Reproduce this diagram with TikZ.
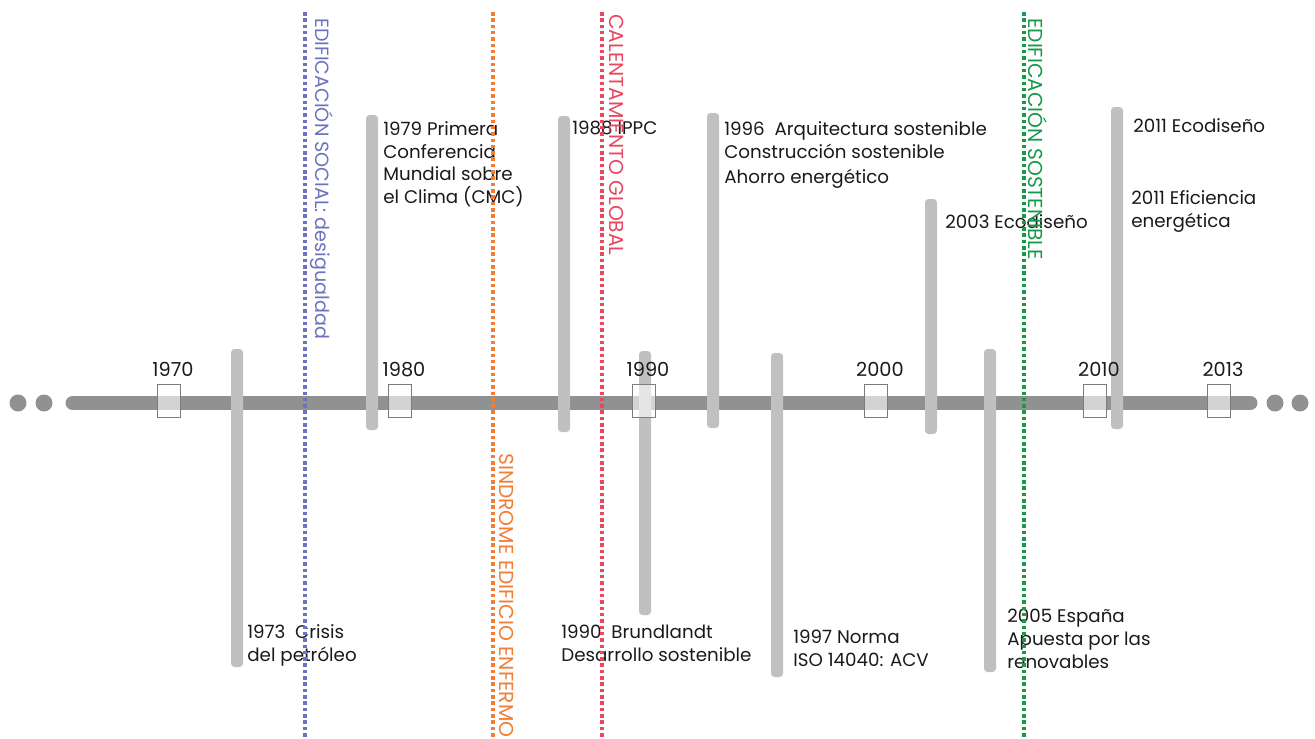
\documentclass[tikz,border=0pt]{standalone}
\usepackage{fontspec}
\setmainfont{Poppins}
\usetikzlibrary{positioning}

\definecolor{axisgray}{HTML}{8F9291}
\definecolor{bargray}{HTML}{C0C0C0}
\definecolor{boxline}{HTML}{7C7C7C}
\definecolor{socialblue}{HTML}{6E72BE}
\definecolor{sickorange}{HTML}{F07E35}
\definecolor{warmred}{HTML}{E8485F}
\definecolor{sustgreen}{HTML}{17994A}
\definecolor{inkblack}{HTML}{1A1A1A}

\tikzset{
	eventbar/.style={fill=bargray, rounded corners=2pt},
	yearbox/.style={draw=boxline, line width=0.5pt, fill=white, fill opacity=0.6,
		minimum width=0.46cm, minimum height=0.66cm, inner sep=0},
	yearlabel/.style={inner sep=0, text=inkblack, font=\fontsize{11}{13}\selectfont},
	note/.style={anchor=north west, inner sep=0, align=left, text=inkblack,
		font=\fontsize{10.4}{13}\selectfont},
	era/.style={line width=2pt, dash pattern=on 2pt off 1.6pt},
	eralabel/.style={rotate=-90, anchor=west, inner sep=0, font=\fontsize{11.5}{13}\selectfont}
}

\begin{document}
\begin{tikzpicture}[x=0.02cm, y=-0.02cm]
	\clip (0,0) rectangle (1315,738);
	\fill[white] (0,0) rectangle (1315,738);

	\coordinate (axL) at (73,403);
	\coordinate (axR) at (1250,403);
	\draw[axisgray, line width=8.5pt, line cap=round] (axL) -- (axR);
	\foreach \x in {18,44,1275,1300}
		\fill[axisgray] (\x,403) circle (8.5);

	\foreach \x/\top/\bot in {237/349/667, 372/115/430, 564/116/432, 645/351/615,
		713/113/428, 777/353/677, 931/199/434, 990/349/672, 1117/107/429}
		\fill[eventbar] (\x-6,\top) rectangle (\x+6,\bot);

	\foreach \yr/\x in {1970/169, 1980/400, 1990/644, 2000/876, 2010/1095, 2013/1219} {
		\node[yearbox] (y\yr) at (\x,401) {};
		\node[yearlabel, above=0.14cm of y\yr, xshift=0.08cm] {\yr};
	}

	\node[note] (n1973) at (247,624) {1973~ Crisis\\del petróleo};
	\node[note] (n1979) at (383,121) {1979 Primera\\Conferencia\\Mundial sobre\\el Clima (CMC)};
	\node[note] (n1988) at (572,121) {1988 IPPC};
	\node[note] (n1990) at (561,625) {1990~ Brundlandt\\Desarrollo sostenible};
	\node[note] (n1996) at (724,121) {1996~ Arquitectura sostenible\\Construcción sostenible\\[1.5pt]Ahorro energético};
	\node[note] (n1997) at (793,630) {1997 Norma\\ISO 14040: ACV};
	\node[note] (n2003) at (945,214) {2003 Ecodiseño};
	\node[note] (n2005) at (1007,609) {2005 España\\Apuesta por las\\renovables};
	\node[note] (n2011a) at (1133,118) {2011 Ecodiseño};
	\node[note] (n2011b) at (1131,190) {2011 Eficiencia\\energética};

	\foreach \x/\col in {305/socialblue, 493/sickorange, 602/warmred, 1024/sustgreen}
		\draw[era, \col] (\x,12) -- (\x,740);

	\node[eralabel, text=socialblue, font=\fontsize{10.9}{13}\selectfont] (social) at (322,18) {EDIFICACIÓN SOCIAL: desigualdad};
	\node[eralabel, text=sickorange] (sick) at (507,453) {SINDROME EDIFICIO ENFERMO};
	\node[eralabel, text=warmred] (warming) at (617,14) {CALENTAMIENTO GLOBAL};
	\node[eralabel, text=sustgreen] (sust) at (1038,18) {EDIFICACIÓN SOSTENIBLE};
\end{tikzpicture}
\end{document}
